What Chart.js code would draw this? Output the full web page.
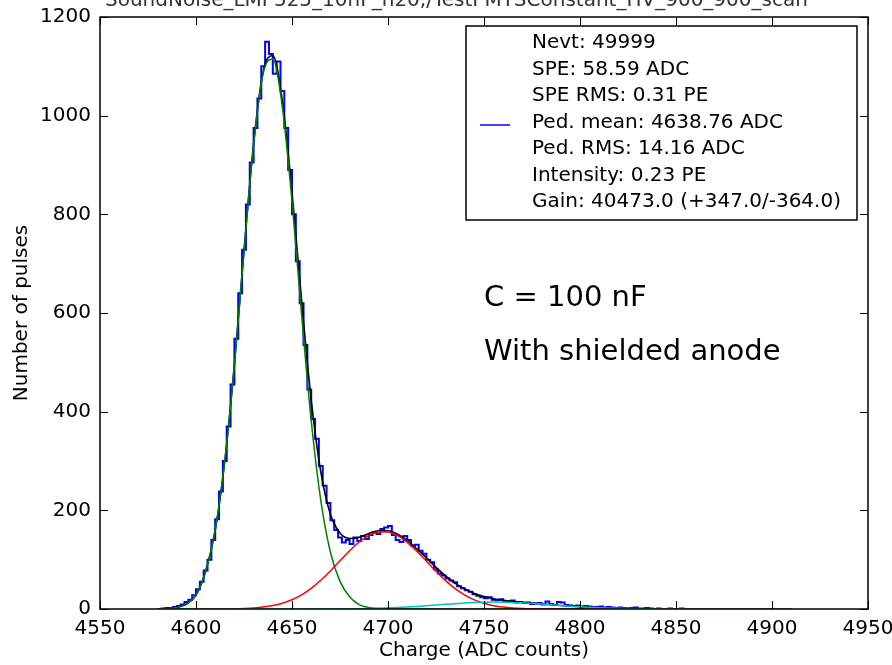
<!DOCTYPE html>
<html>
<head>
<meta charset="UTF-8">
<title>Charge spectrum</title>
<script src="https://cdn.jsdelivr.net/npm/chart.js"></script>
<style>
  body { margin: 0; background: #fff; }
  #wrap { width: 892px; height: 665px; }
</style>
</head>
<body>
<div id="wrap"><canvas id="chart" width="892" height="665"></canvas></div>
<script>
// histogram: bins of 2 ADC counts starting at 4580
const histStart = 4580;
const histBinWidth = 2;
const histCounts = [
  0, 1, 2, 2, 4, 6, 9, 14, 19, 28,
  40, 55, 78, 100, 140, 182, 238, 300, 370, 455,
  548, 640, 728, 820, 905, 975, 1035, 1100, 1150, 1125,
  1085, 1110, 1050, 975, 890, 800, 705, 620, 535, 445,
  385, 345, 290, 250, 215, 180, 160, 145, 135, 140,
  132, 145, 138, 148, 142, 150, 155, 152, 162, 165,
  168, 150, 140, 136, 148, 140, 128, 130, 118, 112,
  100, 95, 80, 72, 68, 62, 58, 54, 46, 42,
  38, 35, 30, 27, 24, 22, 24, 19, 18, 20,
  16, 15, 17, 13, 14, 12, 13, 10, 11, 12,
  9, 15, 10, 8, 14, 13, 8, 7, 6, 7,
  5, 6, 5, 4, 4, 5, 3, 4, 3, 2,
  3, 2, 1, 2, 3, 1, 1, 2, 1, 0,
  1, 0, 0, 1, 0, 0, 1, 0, 0, 0,
  0, 0, 0, 0, 0, 0, 0, 0, 0, 0,
  0, 0, 0, 0, 0, 0, 0, 0, 0, 0,
  0, 0, 0, 0, 0
];

// fit curves sampled every 5 ADC counts from 4580 to 4910
const fitStart = 4580;
const fitStep = 5;
const fitTotal = [
  0.3, 1, 3, 10, 28, 76, 160, 300, 496, 726,
  943, 1090, 1122, 1029, 845, 625, 424, 278, 192, 154,
  143, 145.5, 153, 158.6, 158.6, 151.7, 139, 122, 103.6, 84.4,
  67, 52, 40.4, 31.4, 25.2, 20.8, 17.8, 15.5, 13.6, 11.9,
  10.2, 8.6, 7.2, 5.8, 4.6, 3.5, 2.6, 1.9, 1.3, 0.9,
  0.6, 0.4, 0.2, 0.15, 0.1,
  0, 0, 0, 0, 0, 0, 0, 0, 0, 0, 0, 0
];
const fitPedestal = [
  0.3, 1, 3, 10, 28, 76, 160, 300, 495, 725,
  941, 1086, 1115, 1017, 826, 596, 382, 220, 115, 56,
  25, 9, 3, 1, 0.3,
  0, 0, 0, 0, 0, 0, 0, 0, 0, 0, 0, 0, 0, 0, 0, 0, 0, 0, 0, 0, 0,
  0, 0, 0, 0, 0, 0, 0, 0, 0, 0, 0, 0, 0, 0, 0, 0, 0, 0, 0, 0, 0
];
const fitSinglePE = [
  0, 0, 0, 0, 0, 0.05, 0.1, 0.2, 0.5, 1.1,
  2.1, 4, 7, 11.7, 18.8, 28.7, 41.9, 58.2, 77.2, 97.7,
  118, 135.8, 149, 156, 156, 148.6, 135, 117, 97, 76.4,
  57.5, 41.3, 28.3, 18.4, 11.5, 6.8, 3.9, 2.1, 1.1, 0.5,
  0.2,
  0, 0, 0, 0, 0, 0, 0, 0, 0, 0, 0, 0, 0,
  0, 0, 0, 0, 0, 0, 0, 0, 0, 0, 0, 0, 0
];
const fitDoublePE = [
  0, 0, 0, 0, 0, 0, 0, 0, 0, 0, 0, 0, 0, 0,
  0.02, 0.04, 0.07, 0.12, 0.19, 0.31, 0.49, 0.76, 1.1, 1.6,
  2.3, 3.1, 4.1, 5.3, 6.6, 8.0, 9.5, 10.8, 12.1, 13.0,
  13.7, 14.0, 13.9, 13.4, 12.5, 11.4, 10.0, 8.6, 7.2, 5.8,
  4.6, 3.5, 2.6, 1.9, 1.3, 0.9, 0.6, 0.4, 0.2, 0.15, 0.1,
  0, 0, 0, 0, 0, 0, 0, 0, 0, 0, 0, 0
];

const xTicks = [4550, 4600, 4650, 4700, 4750, 4800, 4850, 4900, 4950];
const yTicks = [0, 200, 400, 600, 800, 1000, 1200];

const legendLines = [
  'Nevt: 49999',
  'SPE: 58.59 ADC',
  'SPE RMS: 0.31 PE',
  'Ped. mean: 4638.76 ADC',
  'Ped. RMS: 14.16 ADC',
  'Intensity: 0.23 PE',
  'Gain: 40473.0 (+347.0/-364.0)'
];
const notes = ['C = 100 nF', 'With shielded anode'];
const topTitle = 'SoundNoise_LMP525_10nF_h20,/TestPMTSConstant_HV_900_900_scan';

const FONT = "'DejaVu Sans', sans-serif";

function histPoints() {
  const pts = histCounts.map((c, i) => ({ x: histStart + i * histBinWidth, y: c }));
  pts.push({ x: histStart + histCounts.length * histBinWidth, y: 0 });
  return pts;
}
function curvePoints(vals) {
  return vals.map((v, i) => ({ x: fitStart + i * fitStep, y: v }));
}

const decorations = {
  id: 'decorations',
  afterDatasetsDraw(chart) {
    const { ctx, chartArea: a, scales: { x, y } } = chart;
    ctx.save();
    // inward ticks on all four sides
    ctx.strokeStyle = '#000';
    ctx.lineWidth = 1;
    ctx.beginPath();
    x.ticks.forEach(t => {
      const px = Math.round(x.getPixelForValue(t.value)) + 0.5;
      ctx.moveTo(px, a.bottom); ctx.lineTo(px, a.bottom - 8);
      ctx.moveTo(px, a.top); ctx.lineTo(px, a.top + 8);
    });
    y.ticks.forEach(t => {
      const py = Math.round(y.getPixelForValue(t.value)) + 0.5;
      ctx.moveTo(a.left, py); ctx.lineTo(a.left + 8, py);
      ctx.moveTo(a.right, py); ctx.lineTo(a.right - 8, py);
    });
    ctx.stroke();
    ctx.lineWidth = 1.5;
    ctx.strokeRect(a.left, a.top, a.right - a.left, a.bottom - a.top);

    // legend box
    const bx = a.right - 402, by = a.top + 9, bw = 391, bh = 194;
    ctx.fillStyle = '#fff';
    ctx.fillRect(bx, by, bw, bh);
    ctx.lineWidth = 1.5;
    ctx.strokeRect(bx, by, bw, bh);
    ctx.strokeStyle = '#0000ff';
    ctx.lineWidth = 1.5;
    ctx.beginPath();
    ctx.moveTo(bx + 14, by + 99); ctx.lineTo(bx + 44, by + 99);
    ctx.stroke();
    ctx.fillStyle = '#000';
    ctx.font = '20px ' + FONT;
    ctx.textBaseline = 'middle';
    ctx.textAlign = 'left';
    legendLines.forEach((s, i) => ctx.fillText(s, bx + 66, by + 17 + i * 26.5));

    // overlay notes
    ctx.font = '29px ' + FONT;
    ctx.fillText(notes[0], a.left + 384, a.top + 281);
    ctx.fillText(notes[1], a.left + 384, a.top + 335);
    ctx.restore();
  },
  afterDraw(chart) {
    const { ctx } = chart;
    ctx.save();
    ctx.fillStyle = '#333';
    ctx.font = '20px ' + FONT;
    ctx.textBaseline = 'alphabetic';
    ctx.textAlign = 'left';
    ctx.fillText(topTitle, 105, 6);
    ctx.restore();
  }
};

new Chart(document.getElementById('chart'), {
  type: 'line',
  data: {
    datasets: [
      { data: histPoints(), borderColor: '#0000ff', borderWidth: 2, stepped: true, order: 5 },
      { data: curvePoints(fitTotal), borderColor: '#000000', borderWidth: 1.6, cubicInterpolationMode: 'monotone', order: 4 },
      { data: curvePoints(fitPedestal), borderColor: '#008000', borderWidth: 1.5, cubicInterpolationMode: 'monotone', order: 3 },
      { data: curvePoints(fitSinglePE), borderColor: '#ff0000', borderWidth: 1.5, cubicInterpolationMode: 'monotone', order: 2 },
      { data: curvePoints(fitDoublePE), borderColor: '#00bfbf', borderWidth: 1.5, cubicInterpolationMode: 'monotone', order: 1 }
    ]
  },
  options: {
    responsive: false,
    animation: false,
    devicePixelRatio: 1,
    layout: { autoPadding: false, padding: { top: 17, right: 24, left: 0, bottom: 0 } },
    elements: { point: { radius: 0 }, line: { fill: false } },
    plugins: { legend: { display: false }, tooltip: { enabled: false } },
    scales: {
      x: {
        type: 'linear', min: 4550, max: 4950,
        afterBuildTicks: s => { s.ticks = xTicks.map(v => ({ value: v })); },
        afterFit: s => { s.height = 56; s.paddingLeft = 0; s.paddingRight = 0; },
        grid: { display: false, drawTicks: false },
        border: { display: false },
        ticks: { color: '#000', font: { family: FONT, size: 20 }, padding: 8, maxRotation: 0, autoSkip: false, callback: v => String(v) },
        title: { display: true, text: 'Charge (ADC counts)', color: '#000', font: { family: FONT, size: 20 }, padding: { top: 0, bottom: 2 } }
      },
      y: {
        type: 'linear', min: 0, max: 1200,
        afterBuildTicks: s => { s.ticks = yTicks.map(v => ({ value: v })); },
        afterFit: s => { s.width = 100; s.paddingTop = 0; s.paddingBottom = 0; },
        grid: { display: false, drawTicks: false },
        border: { display: false },
        ticks: { color: '#000', font: { family: FONT, size: 20 }, padding: 9, autoSkip: false, callback: v => String(v) },
        title: { display: true, text: 'Number of pulses', color: '#000', font: { family: FONT, size: 20 }, padding: { top: 10, bottom: 0 } }
      }
    }
  },
  plugins: [decorations]
});
</script>
</body>
</html>
